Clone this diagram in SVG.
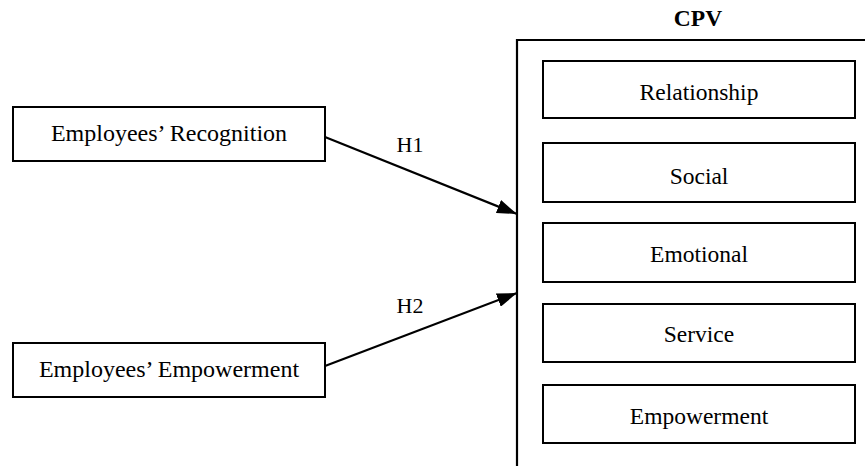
<svg xmlns="http://www.w3.org/2000/svg" width="865" height="466" viewBox="0 0 865 466">
<style>
.box{fill:#fff;stroke:#000;stroke-width:2}
.t{font-family:"Liberation Serif","Times New Roman",serif;font-size:23.5px;fill:#000;text-anchor:middle}
.edge{stroke:#000;stroke-width:2.2;fill:none}
</style>
<defs>
<marker id="ah" viewBox="0 0 10 10" refX="10" refY="5" markerWidth="8.5" markerHeight="7" markerUnits="userSpaceOnUse" orient="auto" overflow="visible">
<path d="M0,0 L10,5 L0,10 z" fill="#000"/>
</marker>
<marker id="arrow" viewBox="0 0 20 14" refX="20" refY="7" markerWidth="20" markerHeight="14" markerUnits="userSpaceOnUse" orient="auto">
<path d="M0,0 L20,7 L0,14 z" fill="#000"/>
</marker>
</defs>
<rect width="865" height="466" fill="#fff"/>
<g id="cpv">
<text class="t" x="698" y="26" font-weight="bold">CPV</text>
<path d="M517,466 V40 H865" fill="none" stroke="#000" stroke-width="2.2"/>
</g>
<g id="relationship"><rect class="box" x="543" y="61" width="312" height="57"/><text class="t" x="699" y="100">Relationship</text></g>
<g id="social"><rect class="box" x="543" y="143" width="312" height="59"/><text class="t" x="699" y="184">Social</text></g>
<g id="emotional"><rect class="box" x="543" y="223" width="312" height="59"/><text class="t" x="699" y="262">Emotional</text></g>
<g id="service"><rect class="box" x="543" y="304" width="312" height="58"/><text class="t" x="699" y="342">Service</text></g>
<g id="empowerment"><rect class="box" x="543" y="385" width="312" height="58"/><text class="t" x="699" y="424">Empowerment</text></g>
<g id="recognition"><rect class="box" x="13" y="107" width="312" height="54"/><text class="t" x="169" y="141" style="font-size:24px">Employees’ Recognition</text></g>
<g id="emp-empowerment"><rect class="box" x="13" y="343" width="312" height="54"/><text class="t" x="169" y="377" style="font-size:24px">Employees’ Empowerment</text></g>
<g id="connectors">
<line class="edge" x1="325" y1="137" x2="517" y2="214" marker-end="url(#arrow)"/>
<line class="edge" x1="325" y1="366" x2="517" y2="293" marker-end="url(#arrow)"/>
<text class="t" x="410" y="152" style="font-size:22px">H1</text>
<text class="t" x="410" y="313" style="font-size:22px">H2</text>
</g>
</svg>
